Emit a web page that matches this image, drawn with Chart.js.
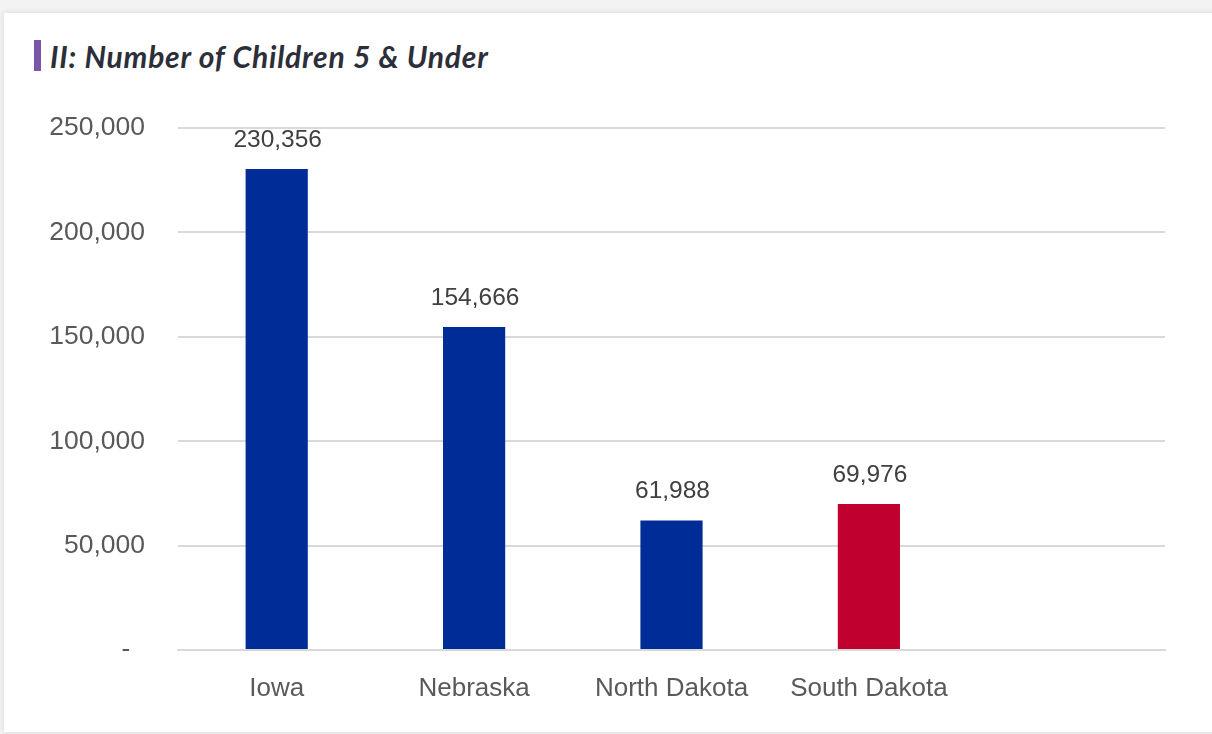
<!DOCTYPE html>
<html>
<head>
<meta charset="utf-8">
<script src="https://cdn.jsdelivr.net/npm/chart.js@4.4.1/dist/chart.umd.min.js"></script>
<style>
  html, body { margin: 0; padding: 0; background: #f3f3f3; }
  body { width: 1212px; height: 734px; position: relative; overflow: hidden; }
  #card {
    position: absolute; left: 4px; top: 13px; width: 1230px; height: 719px;
    background: #fff; box-shadow: 0 0 6px rgba(0,0,0,0.12);
  }
  #title {
    position: absolute; left: 34px; top: 40px; height: 31px;
    border-left: 7px solid #7b55a8; padding-left: 9px;
    font: italic bold 30px Lato, "DejaVu Sans", sans-serif; color: #2c2e39;
    letter-spacing: 0.8px; line-height: 33px; white-space: nowrap;
  }
  #wrap { position: absolute; left: 0; top: 0; width: 1212px; height: 734px; }
</style>
</head>
<body>
<div id="card"></div>
<div id="title">II: Number of Children 5 &amp; Under</div>
<div id="wrap"><canvas id="chart" width="1212" height="734"></canvas></div>
<script>
// states shown on the x axis (last slot is left empty)
const states = ["Iowa", "Nebraska", "North Dakota", "South Dakota", ""];
const children = [230356, 154666, 61988, 69976, null];
const barColors = ["#002c97", "#002c97", "#002c97", "#c0002f", "#002c97"];
const yTicks = [0, 50000, 100000, 150000, 200000, 250000];

const fmt = v => v.toLocaleString("en-US");

// value labels above each bar
const valueLabels = {
    id: "valueLabels",
    afterDatasetsDraw(chart) {
        const ctx = chart.ctx;
        const meta = chart.getDatasetMeta(0);
        ctx.save();
        ctx.font = "24.5px 'Liberation Sans', Arial, sans-serif";
        ctx.fillStyle = "#404040";
        ctx.textAlign = "center";
        ctx.textBaseline = "middle";
        meta.data.forEach((bar, i) => {
            if (children[i] == null) return;
            ctx.fillText(fmt(children[i]), bar.x + 1, bar.y - 29);
        });
        ctx.restore();
    }
};

new Chart(document.getElementById("chart").getContext("2d"), {
    type: "bar",
    data: {
        labels: states,
        datasets: [{
            data: children,
            backgroundColor: barColors,
            borderWidth: 0,
            barPercentage: 1,
            categoryPercentage: 0.315
        }]
    },
    options: {
        responsive: false,
        maintainAspectRatio: false,
        animation: false,
        layout: { padding: { top: 128, right: 47, bottom: 0, left: 0 } },
        plugins: {
            legend: { display: false },
            tooltip: { enabled: false }
        },
        scales: {
            x: {
                grid: { display: false, drawTicks: false },
                border: { display: true, color: "#d9d9d9", width: 2 },
                ticks: {
                    color: "#595959",
                    padding: 23,
                    font: { family: "'Liberation Sans', Arial, sans-serif", size: 26 }
                },
                afterFit: s => { s.height = 84; }
            },
            y: {
                min: 0,
                max: 250000,
                afterBuildTicks: s => { s.ticks = yTicks.map(v => ({ value: v })); },
                grid: { color: "#d9d9d9", lineWidth: 2, drawTicks: false },
                border: { display: false },
                ticks: {
                    color: "#595959",
                    padding: 33,
                    font: { family: "'Liberation Sans', Arial, sans-serif", size: 26.5 },
                    callback: v => v === 0 ? "-  " : fmt(v)
                },
                afterFit: s => { s.width = 178; }
            }
        }
    },
    plugins: [valueLabels]
});
</script>
</body>
</html>
